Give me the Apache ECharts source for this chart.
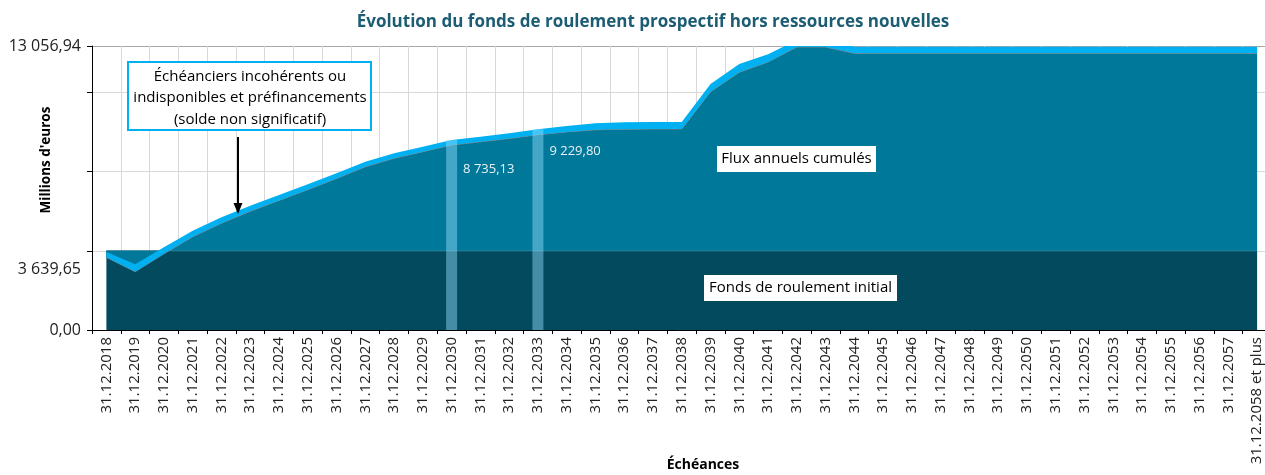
<!DOCTYPE html>
<html><head><meta charset="utf-8">
<script src="https://cdn.jsdelivr.net/npm/echarts@6/dist/echarts.min.js"></script>
<style>html,body{margin:0;padding:0;background:#fff}#c{width:1265px;height:475px}</style>
</head><body><div id="c"></div>
<script>
const categories = ['31.12.2018','31.12.2019','31.12.2020','31.12.2021','31.12.2022','31.12.2023','31.12.2024','31.12.2025','31.12.2026','31.12.2027','31.12.2028','31.12.2029','31.12.2030','31.12.2031','31.12.2032','31.12.2033','31.12.2034','31.12.2035','31.12.2036','31.12.2037','31.12.2038','31.12.2039','31.12.2040','31.12.2041','31.12.2042','31.12.2043','31.12.2044','31.12.2045','31.12.2046','31.12.2047','31.12.2048','31.12.2049','31.12.2050','31.12.2051','31.12.2052','31.12.2053','31.12.2054','31.12.2055','31.12.2056','31.12.2057','31.12.2058 et plus'];
const fondsInitial = [3639.65,3639.65,3639.65,3639.65,3639.65,3639.65,3639.65,3639.65,3639.65,3639.65,3639.65,3639.65,3639.65,3639.65,3639.65,3639.65,3639.65,3639.65,3639.65,3639.65,3639.65,3639.65,3639.65,3639.65,3639.65,3639.65,3639.65,3639.65,3639.65,3639.65,3639.65,3639.65,3639.65,3639.65,3639.65,3639.65,3639.65,3639.65,3639.65,3639.65,3639.65];
const fluxCumules = [-299,-960,-138,645,1271,1815,2317,2814,3324,3863,4252,4557,4865,5012,5163,5340,5469,5563,5594,5603,5603,7316,8207,8681,9370,9370,9081,9081,9081,9081,9081,9081,9081,9081,9081,9081,9081,9081,9081,9081,9081];
const echeanciers = [245,340,300,280,270,260,250,245,240,235,232,230,230,235,240,250,270,300,315,320,320,354,382,354,320,320,304,304,304,304,304,304,304,304,304,304,304,304,304,304,304];
const highlightCategories = ['31.12.2030','31.12.2033'];
const highlightValues = [8735.13, 9229.80];
const yMax = 13056.94;
const yStep = 3639.65;

const FONT = 'Open Sans';
function fr(v){
  const s = v.toFixed(2).split('.');
  return s[0].replace(/\B(?=(\d{3})+(?!\d))/g,' ') + ',' + s[1];
}
const labelOffsets = [[17,29],[17,22]];
const barData = categories.map(c => {
  const k = highlightCategories.indexOf(c);
  if (k < 0) return '-';
  return {value: highlightValues[k], label: {position: labelOffsets[k]}};
});

const chart = echarts.init(document.getElementById('c'));
chart.setOption({
  animation: false,
  backgroundColor: '#fff',
  title: {
    text: 'Évolution du fonds de roulement prospectif hors ressources nouvelles',
    left: 648, top: 9, textAlign: 'center',
    textStyle: {fontFamily: FONT, fontSize: 17, fontWeight: 'bold', color: '#1c5d73'}
  },
  grid: {left: 92, width: 1179.5, top: 46, height: 284, containLabel: false, outerBoundsMode: 'none'},
  xAxis: {
    type: 'category', data: categories, boundaryGap: true,
    axisLine: {lineStyle: {color: '#000', width: 1}},
    axisTick: {show: true, interval: 0, length: 4, lineStyle: {color: '#000'}},
    axisLabel: {interval: 0, rotate: 90, margin: 7, fontFamily: FONT, fontSize: 15, color: '#222'},
    splitLine: {show: true, interval: 0, lineStyle: {color: '#d9d9d9', width: 1}}
  },
  yAxis: {
    type: 'value', min: 0, max: yMax, interval: yStep,
    axisLine: {show: true, lineStyle: {color: '#000', width: 1}},
    axisTick: {show: true, length: 5, lineStyle: {color: '#000'}},
    axisLabel: {
      margin: 11, fontFamily: FONT, fontSize: 16, color: '#222', lineHeight: 38,
      formatter: function(v){
        if (Math.abs(v) < 1e-6) return fr(0);
        if (Math.abs(v - yStep) < 1e-3) return '\n' + fr(yStep);
        if (Math.abs(v - yMax) < 1e-3) return fr(yMax);
        return '';
      }
    },
    splitLine: {show: true, lineStyle: {color: ['#d9d9d9','#d9d9d9','#d9d9d9','#d9d9d9','#a6a6a6'], width: 1}}
  },
  series: [
    {name: 'Fonds de roulement initial', type: 'line', stack: 'fr', stackStrategy: 'all', data: fondsInitial,
     symbol: 'none', lineStyle: {color: '#2d7e95', width: 1}, areaStyle: {color: '#034a5f', opacity: 1}, z: 2},
    {name: 'Flux annuels cumulés', type: 'line', stack: 'fr', stackStrategy: 'all', data: fluxCumules,
     symbol: 'none', lineStyle: {color: '#808080', width: 1}, areaStyle: {color: '#007899', opacity: 1}, z: 3},
    {name: 'Échéanciers incohérents ou indisponibles et préfinancements', type: 'line', stack: 'fr', stackStrategy: 'all', data: echeanciers,
     symbol: 'none', lineStyle: {width: 0}, areaStyle: {color: '#00b0f0', opacity: 1}, z: 4},
    {name: 'Repères', type: 'bar', data: barData, barWidth: 11,
     itemStyle: {color: 'rgba(150,225,255,0.45)'}, z: 5,
     label: {show: true, align: 'left', verticalAlign: 'middle', color: '#e8f1f5', fontFamily: FONT, fontSize: 13,
       formatter: p => fr(p.value)}}
  ],
  graphic: [
    {type: 'rect', z: 100, shape: {x: 128, y: 62, width: 243, height: 68}, style: {fill: '#fff', stroke: '#00b0f0', lineWidth: 2}},
    {type: 'text', z: 101, x: 250, y: 98, style: {text: 'Échéanciers incohérents ou\nindisponibles et préfinancements\n(solde non significatif)', align: 'center', verticalAlign: 'middle', fontFamily: FONT, fontSize: 15, lineHeight: 21.5, fill: '#000'}},
    {type: 'line', z: 101, shape: {x1: 238, y1: 137, x2: 238, y2: 205}, style: {stroke: '#000', lineWidth: 2}},
    {type: 'polygon', z: 101, shape: {points: [[233.5,203],[242.5,203],[238,214]]}, style: {fill: '#000'}},
    {type: 'rect', z: 100, shape: {x: 717, y: 146, width: 159, height: 26}, style: {fill: '#fff'}},
    {type: 'text', z: 101, x: 796.5, y: 159, style: {text: 'Flux annuels cumulés', align: 'center', verticalAlign: 'middle', fontFamily: FONT, fontSize: 15, fill: '#000'}},
    {type: 'rect', z: 100, shape: {x: 704, y: 275, width: 193, height: 26}, style: {fill: '#fff'}},
    {type: 'text', z: 101, x: 800.5, y: 288, style: {text: 'Fonds de roulement initial', align: 'center', verticalAlign: 'middle', fontFamily: FONT, fontSize: 15, fill: '#000'}},
    {type: 'text', z: 101, x: 46, y: 160, rotation: Math.PI/2, style: {text: "Millions d'euros", align: 'center', verticalAlign: 'middle', fontFamily: FONT, fontSize: 13.5, fontWeight: 'bold', fill: '#000'}},
    {type: 'text', z: 101, x: 703, y: 465, style: {text: 'Échéances', align: 'center', verticalAlign: 'middle', fontFamily: FONT, fontSize: 14, fontWeight: 'bold', fill: '#000'}}
  ]
});
</script></body></html>
